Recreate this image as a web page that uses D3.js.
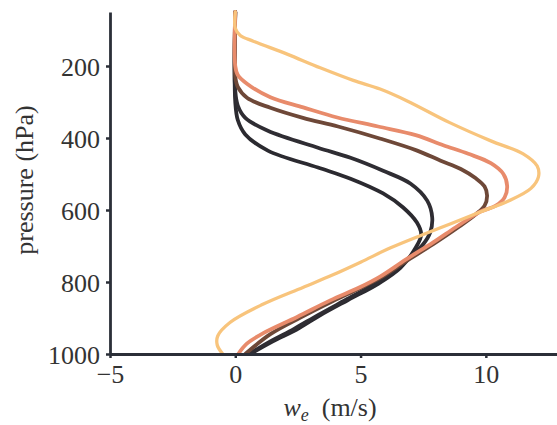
<!DOCTYPE html>
<html>
<head>
<meta charset="utf-8">
<script src="https://cdn.jsdelivr.net/npm/d3@7"></script>
<style>
  body { margin: 0; background: #fff; }
  text { font-family: "Liberation Serif", "DejaVu Serif", serif; fill: #333; }
</style>
</head>
<body>
<div id="chart"></div>
<script>
// profiles, each point is [w_e (m/s), pressure (hPa)], top to bottom
const blackInner = [[0,50],[0,300],[0.1,350],[0.4,390],[1.3,435],[3.3,482],[4.6,513],[5.9,554],[6.7,593],[7.25,635],[7.42,668],[7.2,705],[6.6,760],[5.7,805],[4.5,850],[3.4,892],[2.45,932],[1.5,965],[0.6,1000]];
const blackOuter = [[0,50],[0,270],[0.1,310],[0.4,344],[1.3,380],[3.3,427],[4.6,455],[5.9,491],[7.0,527],[7.66,574],[7.86,621],[7.78,662],[7.5,695],[6.9,735],[6.3,772],[5.5,808],[4.4,850],[3.3,892],[2.35,930],[1.4,965],[0.55,1000]];
const brown = [[0,50],[0,230],[0.1,258],[0.48,289],[1.4,316],[2.7,344],[4.1,368],[5.8,402],[7.26,435],[8.2,463],[9.0,486],[9.6,512],[9.95,535],[10.05,560],[9.95,588],[9.6,612],[8.9,648],[7.9,695],[6.8,743],[5.8,788],[4.8,823],[3.9,853],[2.6,899],[1.4,945],[0.4,1000]];
const salmon = [[0,50],[0,200],[0.1,225],[0.48,250],[1.4,287],[2.71,315],[4.07,343],[5.7,368],[7.2,392],[8.3,420],[9.3,444],[10.2,470],[10.7,500],[10.85,533],[10.75,565],[10.4,588],[9.77,605],[8.8,648],[7.9,690],[6.8,738],[5.78,785],[4.99,814],[3.79,851],[2.47,897],[1.12,942],[0.45,972],[0.12,1000]];
const yellow = [[0,50],[0,95],[0.2,115],[0.72,131],[2.07,167],[3.39,205],[4.71,240],[5.78,264],[6.86,297],[8.58,358],[10.2,408],[11.49,444],[12.05,478],[12.1,508],[11.8,540],[10.9,575],[9.8,605],[8.6,638],[7.5,668],[6.2,705],[5.0,745],[3.9,780],[2.7,815],[1.1,862],[-0.2,912],[-0.7,950],[-0.72,975],[-0.5,1000]];

const profiles = [blackInner, blackOuter, brown, salmon, yellow];
const colors = ["#2b2a30", "#2f2d33", "#6e4838", "#e88b6b", "#f8c47c"];

const xTicks = [-5, 0, 5, 10];
const yTicks = [200, 400, 600, 800, 1000];

const width = 557, height = 425;

const svg = d3.select("#chart")
  .append("svg")
    .attr("width", width)
    .attr("height", height);

const x = d3.scaleLinear()
  .domain([-5, 13])
  .range([110, 561]);

const y = d3.scaleLinear()
  .domain([50, 1000])
  .range([12, 354]);

const line = d3.line()
  .x(d => x(d[0]))
  .y(d => y(d[1]))
  .curve(d3.curveCatmullRom.alpha(0.5));

svg.selectAll(".profile")
  .data(profiles)
  .enter()
  .append("path")
    .attr("class", "profile")
    .attr("d", d => line(d))
    .attr("fill", "none")
    .attr("stroke", (d, i) => colors[i])
    .attr("stroke-width", (d, i) => i == 4 ? 3.3 : 3.8)
    .attr("stroke-linecap", "round")
    .attr("stroke-linejoin", "round");

// axes
const xAxis = svg.append("g")
  .attr("transform", `translate(0,${y(1000)})`)
  .call(d3.axisBottom(x).tickValues(xTicks).tickSize(4).tickSizeOuter(0)
    .tickFormat(d => d < 0 ? "\u2212" + Math.abs(d) : d));

const yAxis = svg.append("g")
  .attr("transform", `translate(${x(-5)},0)`)
  .call(d3.axisLeft(y).tickValues(yTicks).tickSize(4).tickSizeOuter(0)
    .tickFormat(d3.format("d")));

[xAxis, yAxis].forEach(g => {
  g.select(".domain").attr("stroke", "#2b2f38").attr("stroke-width", 2.8);
  g.selectAll(".tick line").attr("stroke", "#2b2f38").attr("stroke-width", 2.5);
  g.selectAll(".tick text")
    .attr("font-family", "'Liberation Serif', serif")
    .attr("font-size", 26)
    .attr("fill", "#333");
});
xAxis.selectAll(".tick text").attr("y", 8).attr("dy", "0.8em");
yAxis.selectAll(".tick text").attr("x", -10).attr("dy", "0.35em");

// labels
svg.append("text")
  .attr("transform", `translate(33,180) rotate(-90)`)
  .attr("text-anchor", "middle")
  .attr("font-size", 26)
  .text("pressure (hPa)");

const xl = svg.append("text")
  .attr("x", 330)
  .attr("y", 416)
  .attr("text-anchor", "middle")
  .attr("font-size", 26);
xl.append("tspan").attr("font-style", "italic").text("w");
xl.append("tspan").attr("font-style", "italic").attr("font-size", 18).attr("dy", 5).text("e");
xl.append("tspan").attr("dy", -5).text("\u2002(m/s)");
</script>
</body>
</html>
